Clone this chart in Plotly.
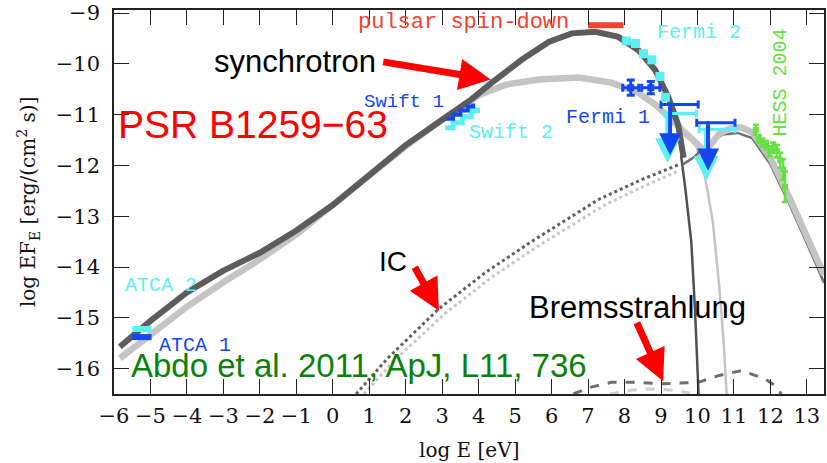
import plotly.graph_objects as go

# ---------------- model curves: log E [eV] vs log E F_E ----------------
tot1_x = [-5.84, -5.0, -4.0, -3.0, -2.0, -1.0, 0.0, 1.0, 2.0, 3.0, 3.8, 4.36, 5.18, 5.92,
          6.55, 7.2, 7.83, 8.38, 8.84, 9.2, 9.47, 9.62]
tot1_y = [-15.57, -15.06, -14.5, -14.07, -13.72, -13.28, -12.78, -12.2, -11.6, -11.1, -10.7,
          -10.37, -9.92, -9.57, -9.4, -9.37, -9.47, -9.73, -10.12, -10.65, -11.2, -11.85]

tot2_x = [-5.84, -5.0, -4.0, -3.0, -2.0, -1.0, 0.0, 1.0, 2.0, 3.0, 4.0, 4.74, 5.65, 6.74,
          7.64, 8.38, 8.84, 9.2, 9.66, 10.0, 10.2, 10.4, 10.6, 10.9, 11.2, 11.5, 12.0,
          12.5, 13.0, 13.47]
tot2_y = [-15.8, -15.35, -14.78, -14.3, -13.85, -13.36, -12.8, -12.2, -11.62, -11.1, -10.62,
          -10.41, -10.31, -10.27, -10.37, -10.57, -10.8, -11.05, -11.35, -11.62, -11.72,
          -11.55, -11.38, -11.27, -11.25, -11.35, -11.85, -12.6, -13.4, -14.15]

sync1_tail_x = [9.55, 9.67, 9.83, 9.93, 10.03]
sync1_tail_y = [-11.8, -12.47, -13.5, -14.8, -16.5]
sync2_tail_x = [9.95, 10.2, 10.42, 10.6, 10.72, 10.8]
sync2_tail_y = [-11.58, -12.2, -13.1, -14.4, -15.5, -16.5]

ic1_x = [0.64, 1.5, 2.91, 4.2, 5.45, 6.4, 7.29, 8.4, 9.5]
ic1_y = [-16.5, -15.8, -14.82, -14.1, -13.5, -13.07, -12.67, -12.3, -11.98]
ic2_x = [0.85, 1.7, 3.1, 4.4, 5.6, 6.6, 7.45, 8.5, 9.5]
ic2_y = [-16.5, -15.83, -14.9, -14.18, -13.6, -13.16, -12.78, -12.42, -12.1]
ic1_hump_x = [9.6, 9.9, 10.3, 10.7, 11.1, 11.5, 12.0, 12.5, 13.0, 13.47]
ic1_hump_y = [-11.92, -11.78, -11.5, -11.33, -11.3, -11.4, -11.92, -12.67, -13.47, -14.25]

brems1_x = [6.6, 7.0, 7.64, 8.3, 9.0, 9.6, 10.02, 10.57, 11.2, 11.85, 12.1, 12.3]
brems1_y = [-16.5, -16.38, -16.27, -16.27, -16.3, -16.28, -16.27, -16.14, -16.04, -16.2,
            -16.32, -16.5]
brems2_x = [7.6, 8.2, 8.8, 9.4, 9.9]
brems2_y = [-16.5, -16.42, -16.4, -16.43, -16.5]

# ---------------- observations ----------------
atca1_x, atca1_y = [-5.5, -4.97], [-15.38, -15.38]
atca2_x, atca2_y = [-5.5, -4.97], [-15.22, -15.22]

swift1_x = [3.1, 3.3, 3.5, 3.7, 3.85]
swift1_y = [-11.08, -11.0, -10.92, -10.84, -10.78]
swift2_x = [3.08, 3.3, 3.55, 3.8, 3.97]
swift2_y = [-11.26, -11.16, -11.04, -10.92, -10.86]

fermi1_x = [8.17, 8.72]
fermi1_y = [-10.47, -10.47]
fermi1_xerr = [0.22, 0.25]
fermi1_yerr = [0.15, 0.12]

fermi2_x = [8.05, 8.3, 8.52, 8.75, 8.97, 9.12]
fermi2_y = [-9.55, -9.6, -9.8, -9.92, -10.25, -10.66]

# upper limits: bar centre, bar extent, limit value, arrow tip
f1_ul_x = [9.25, 10.29]
f1_ul_lo = [9.0, 9.98]
f1_ul_hi = [10.02, 11.03]
f1_ul_y = [-10.8, -11.16]
f1_ul_tip = [-11.8, -12.1]

f2_ul_x = [9.18, 10.24]
f2_ul_lo = [9.1, 10.05]
f2_ul_hi = [9.97, 11.03]
f2_ul_y = [-10.98, -11.29]
f2_ul_tip = [-11.95, -12.3]

hess_x = [11.6, 11.68, 11.78, 11.88, 11.98, 12.08, 12.18, 12.27, 12.35, 12.4]
hess_y = [-11.3, -11.48, -11.55, -11.6, -11.72, -11.65, -11.72, -11.9, -12.08, -12.42]
hess_err = [0.1, 0.08, 0.08, 0.08, 0.1, 0.1, 0.12, 0.15, 0.2, 0.3]

spin_x, spin_y = [7.0, 7.97], [-9.24, -9.24]

x_ticks = list(range(-6, 14))
y_ticks = list(range(-16, -8))

BLUE = "#1447ee"
CYAN = "#5cf0f4"
GREEN = "#66e045"
DARK = "#5c5c5c"
LIGHT = "#c4c4c4"

fig = go.Figure()


def line(x, y, color, width, dash="solid", shape="linear"):
    fig.add_trace(go.Scatter(x=x, y=y, mode="lines", hoverinfo="skip",
                             line=dict(color=color, width=width, dash=dash, shape=shape)))


# model components
line(brems2_x, brems2_y, "#cfcfcf", 3, "dash")
line(brems1_x, brems1_y, "#6e6e6e", 3, "dash")
line(ic2_x, ic2_y, "#c8c8c8", 3, "dot")
line(ic1_x, ic1_y, "#606060", 3, "dot")
line(sync2_tail_x, sync2_tail_y, LIGHT, 2.5)
line(sync1_tail_x, sync1_tail_y, "#505050", 2.5)
line(ic1_hump_x, [v - 0.06 for v in ic1_hump_y], "#707070", 2.5)
line(tot2_x, tot2_y, LIGHT, 6.5)
line(tot1_x, tot1_y, DARK, 6)

# radio
line(atca2_x, atca2_y, CYAN, 6)
line(atca1_x, atca1_y, BLUE, 6)

# X-ray
line(swift2_x, swift2_y, CYAN, 5, shape="hv")
line(swift1_x, swift1_y, BLUE, 4, shape="hv")

# pulsar spin-down
line(spin_x, spin_y, "#ee4430", 6)

# Fermi upper-limit bars
for xs, lo, hi, ys, col in [(f2_ul_x, f2_ul_lo, f2_ul_hi, f2_ul_y, CYAN),
                            (f1_ul_x, f1_ul_lo, f1_ul_hi, f1_ul_y, BLUE)]:
    fig.add_trace(go.Scatter(
        x=xs, y=ys, mode="markers", hoverinfo="skip",
        marker=dict(size=4, color=col),
        error_x=dict(type="data", symmetric=False,
                     array=[h - c for h, c in zip(hi, xs)],
                     arrayminus=[c - l for c, l in zip(xs, lo)],
                     color=col, thickness=3, width=4)))

# Fermi fluxes
fig.add_trace(go.Scatter(x=fermi2_x, y=fermi2_y, mode="markers", hoverinfo="skip",
                         marker=dict(symbol="square", size=9, color=CYAN)))
fig.add_trace(go.Scatter(
    x=fermi1_x, y=fermi1_y, mode="markers", hoverinfo="skip",
    marker=dict(symbol="square", size=7, color=BLUE),
    error_x=dict(type="data", array=fermi1_xerr, color=BLUE, thickness=3, width=4),
    error_y=dict(type="data", array=fermi1_yerr, color=BLUE, thickness=3, width=4)))

# H.E.S.S.
fig.add_trace(go.Scatter(
    x=hess_x, y=hess_y, mode="markers", hoverinfo="skip",
    marker=dict(symbol="square", size=6, color=GREEN),
    error_y=dict(type="data", array=hess_err, color=GREEN, thickness=2.5, width=3)))

annotations = []

# upper-limit arrows
for xs, ys, tips, col, w in [(f2_ul_x, f2_ul_y, f2_ul_tip, CYAN, 4.5),
                             (f1_ul_x, f1_ul_y, f1_ul_tip, BLUE, 4)]:
    for xv, yv, tv in zip(xs, ys, tips):
        annotations.append(dict(x=xv, y=tv, ax=xv, ay=yv, xref="x", yref="y",
                                axref="x", ayref="y", text="", showarrow=True,
                                arrowhead=2, arrowsize=1.1, arrowwidth=w, arrowcolor=col))


def label(text, x, y, color, size, family="Liberation Mono", anchor="left", angle=0):
    annotations.append(dict(x=x, y=y, xref="x", yref="y", text=text, showarrow=False,
                            xanchor=anchor, yanchor="middle", textangle=angle,
                            font=dict(family=family, size=size, color=color)))


label("pulsar spin-down", 6.52, -9.19, "#ee4430", 22, anchor="right")
label("Fermi 2", 8.84, -9.39, CYAN, 20)
label("Swift 1", 0.81, -10.76, BLUE, 19)
label("Swift 2", 3.68, -11.35, CYAN, 20)
label("Fermi 1", 6.33, -11.06, BLUE, 20)
label("ATCA 2", -5.75, -14.37, CYAN, 20)
label("ATCA 1", -4.82, -15.55, BLUE, 20)
label("HESS 2004", 12.29, -10.37, GREEN, 20, anchor="center", angle=-90)

SANS = "Liberation Sans, Arial, sans-serif"
label("PSR B1259\u221263", -5.95, -11.2, "#ff0000", 39, family=SANS)
label("synchrotron", -3.32, -9.96, "#000000", 31, family=SANS)
label("IC", 1.22, -13.9, "#000000", 28, family=SANS)
label("Bremsstrahlung", 5.32, -14.8, "#000000", 31, family=SANS)
label("Abdo et al. 2011, ApJ, L11, 736", -5.6, -15.93, "#0a820a", 33, family=SANS)

# red pointer arrows
for tx, ty, dx, dy in [(4.33, -10.31, -109, -18), (2.91, -14.86, -25, -45),
                       (9.06, -16.25, -27, -60)]:
    annotations.append(dict(x=tx, y=ty, ax=dx, ay=dy, xref="x", yref="y", text="",
                            showarrow=True, arrowhead=2, arrowsize=0.9, arrowwidth=7,
                            arrowcolor="#ff0000"))

SERIF = "DejaVu Serif, serif"
annotations.append(dict(x=-0.121, y=0.5, xref="paper", yref="paper", showarrow=False,
                        text="log EF<sub>E</sub> [erg/(cm<sup>2</sup> s)]", textangle=-90,
                        xanchor="center", yanchor="middle",
                        font=dict(family=SERIF, size=20, color="#111111")))
annotations.append(dict(x=0.5, y=-0.146, xref="paper", yref="paper", showarrow=False,
                        text="log E [eV]", xanchor="center", yanchor="middle",
                        font=dict(family=SERIF, size=20, color="#111111")))

axis_common = dict(showline=True, linecolor="#222222", linewidth=1.6, mirror="ticks",
                   ticks="inside", ticklen=15, tickwidth=1.4, tickcolor="#222222",
                   showgrid=False, zeroline=False,
                   tickfont=dict(family=SERIF, size=21, color="#111111"))

fig.update_layout(
    width=827, height=463,
    margin=dict(l=114, r=1, t=10, b=69),
    paper_bgcolor="white", plot_bgcolor="white",
    showlegend=False,
    annotations=annotations,
    xaxis=dict(range=[-6, 13.47], tickvals=x_ticks, ticklabelstandoff=2, **axis_common),
    yaxis=dict(range=[-16.5, -8.94], tickvals=y_ticks, ticklabelstandoff=8, **axis_common),
)

fig.write_html("out.html")
